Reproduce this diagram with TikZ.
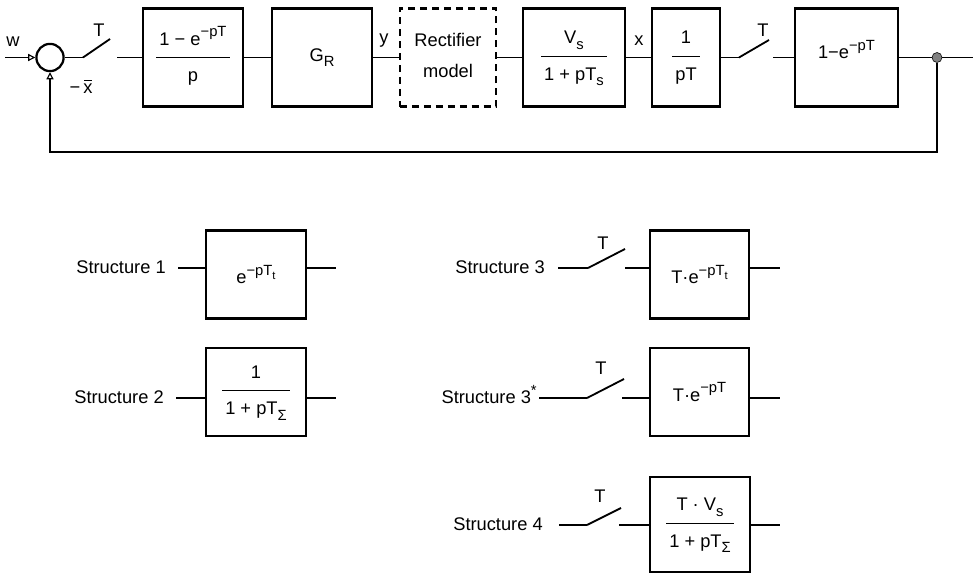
\documentclass[tikz,border=0pt]{standalone}
\usepackage{fontspec}
\setmainfont{Liberation Sans}
\usetikzlibrary{arrows.meta}
\newcommand\supx[1]{\raisebox{0.45em}{\fontsize{10.5}{12}\selectfont #1}}
\newcommand\subx[1]{\raisebox{-0.3em}{\fontsize{10.5}{12}\selectfont #1}}
\newcommand\subsubx[1]{\raisebox{-0.25em}{\fontsize{8}{10}\selectfont #1}}
\newcommand\fracx[2]{\begin{tabular}{@{\,}c@{\,}}#1\\[4pt]\hline\rule{0pt}{17pt}#2\end{tabular}}
\newcommand\barx{\makebox[0pt][l]{\hspace{0.05em}\raisebox{1.35ex}{\rule{0.42em}{0.6pt}}}x}
\tikzset{
	block/.style={draw, line width=1.9pt, minimum width=2.5cm, minimum height=2.45cm, inner sep=0pt},
	wire/.style={line width=0.8pt},
	blade/.style={line width=1.3pt},
	lbl/.style={inner sep=0pt, anchor=base east},
	tip/.style={-{Triangle[open, length=5pt, width=5pt]}},
}

\begin{document}
\begin{tikzpicture}[x=0.025cm, y=-0.025cm, font=\fontsize{13}{15.6}\selectfont]
		\useasboundingbox (0,0) rectangle (974,576);
		% control loop
		\node[draw, circle, line width=1.6pt, minimum size=0.68cm, inner sep=0pt] (sum) at (50,57.5) {};
		\node[block] (hold) at (193,57.5) {\fracx{1 − e\supx{−pT}}{p}};
		\node[block] (ctrl) at (322,57.5) {G\subx{R}};
		\node[block, dash pattern=on 5pt off 3.5pt, line width=1.9pt, minimum width=2.4cm] (rect) at (448,57.5)
			{\begin{tabular}{c}Rectifier\\[6pt]model\end{tabular}};
		\node[block, minimum width=2.55cm] (plant) at (574,57.5) {\fracx{V\subx{s}}{1 + pT\subx{s}}};
		\node[block, minimum width=1.7cm] (integ) at (686,57.5) {\fracx{1}{pT}};
		\node[block, minimum width=2.575cm] (zoh) at (846.5,57.5) {\raisebox{0.4cm}{1−e\supx{−pT}}};
		\coordinate (win) at (5,57.5);
		\coordinate (sw1a) at (83,57.5);
		\coordinate (sw1b) at (110,39);
		\coordinate (sw1c) at (117,57.5);
		\coordinate (sw2a) at (739,57.5);
		\coordinate (sw2b) at (769,40);
		\coordinate (sw2c) at (773,57.5);
		\coordinate (out) at (973,57.5);
		\coordinate (fbr) at (937,152);
		\coordinate (fbl) at (50,152);
		\draw[wire, tip] (win) -- (sum.west);
		\draw[wire] (sum.east) -- (sw1a);
		\draw[blade] (sw1a) -- (sw1b);
		\draw[wire] (sw1c) -- (hold.west);
		\draw[wire] (hold.east) -- (ctrl.west);
		\draw[wire] (ctrl.east) -- (rect.west);
		\draw[wire] (rect.east) -- (plant.west);
		\draw[wire] (plant.east) -- (integ.west);
		\draw[wire] (integ.east) -- (sw2a);
		\draw[blade] (sw2a) -- (sw2b);
		\draw[wire] (sw2c) -- (zoh.west);
		\draw[wire] (zoh.east) -- (out);
		\node[circle, draw, fill=gray, inner sep=0pt, minimum size=0.25cm] (tap) at (937,57.5) {};
		\draw[wire, tip] (tap.south) -- (fbr) -- (fbl) -- (sum.south);
		\node at (13,42) {w};
		\node at (99,30) {T};
		\node at (81,87) {−\,\barx};
		\node at (384,41) {y};
		\node at (639,41) {x};
		\node at (763,30) {T};
		% structure 1 and 2
		\node[block, minimum height=2.2cm] (st1) at (256,274.5) {e\supx{−pT\subsubx{t}}};
		\node[lbl] (st1lbl) at (166,274) {Structure 1};
		\coordinate (st1in) at (178,268);
		\coordinate (st1out) at (336,268);
		\draw[wire] (st1in) -- (st1in -| st1.west);
		\draw[wire] (st1out -| st1.east) -- (st1out);
		\node[block, minimum height=2.2cm] (st2) at (256,392) {\fracx{1}{1 + pT\subx{Σ}}};
		\node[lbl] (st2lbl) at (164,404) {Structure 2};
		\coordinate (st2in) at (176,398);
		\coordinate (st2out) at (336,398);
		\draw[wire] (st2in) -- (st2in -| st2.west);
		\draw[wire] (st2out -| st2.east) -- (st2out);
		% structure 3, 3* and 4
		\node[block, minimum height=2.2cm, minimum width=2.475cm] (st3) at (699.5,274.5) {T·e\supx{−pT\subsubx{t}}};
		\node[lbl] (st3lbl) at (545,274) {Structure 3};
		\coordinate (st3in) at (558,268);
		\coordinate (st3a) at (588,268);
		\coordinate (st3b) at (625,249);
		\coordinate (st3c) at (625,268);
		\coordinate (st3out) at (780,268);
		\draw[wire] (st3in) -- (st3a);
		\draw[blade] (st3a) -- (st3b);
		\draw[wire] (st3c) -- (st3c -| st3.west);
		\draw[wire] (st3out -| st3.east) -- (st3out);
		\node at (603,243) {T};
		\node[block, minimum height=2.2cm, minimum width=2.475cm] (st3s) at (699.5,392) {T·e\supx{−pT}};
		\node[lbl] (st3slbl) at (537,404) {Structure 3\supx{*}};
		\coordinate (st3sin) at (539,398);
		\coordinate (st3sa) at (587,398);
		\coordinate (st3sb) at (624,379);
		\coordinate (st3sc) at (622,398);
		\coordinate (st3sout) at (780,398);
		\draw[wire] (st3sin) -- (st3sa);
		\draw[blade] (st3sa) -- (st3sb);
		\draw[wire] (st3sc) -- (st3sc -| st3s.west);
		\draw[wire] (st3sout -| st3s.east) -- (st3sout);
		\node at (601,368) {T};
		\node[block, minimum height=2.375cm] (st4) at (700,524.5) {\fracx{T · V\subx{s}}{1 + pT\subx{Σ}}};
		\node[lbl] (st4lbl) at (543,531) {Structure 4};
		\coordinate (st4in) at (559,525);
		\coordinate (st4a) at (587,525);
		\coordinate (st4b) at (621,508);
		\coordinate (st4c) at (619,525);
		\coordinate (st4out) at (780,525);
		\draw[wire] (st4in) -- (st4a);
		\draw[blade] (st4a) -- (st4b);
		\draw[wire] (st4c) -- (st4c -| st4.west);
		\draw[wire] (st4out -| st4.east) -- (st4out);
		\node at (600,496) {T};
	\end{tikzpicture}
\end{document}
